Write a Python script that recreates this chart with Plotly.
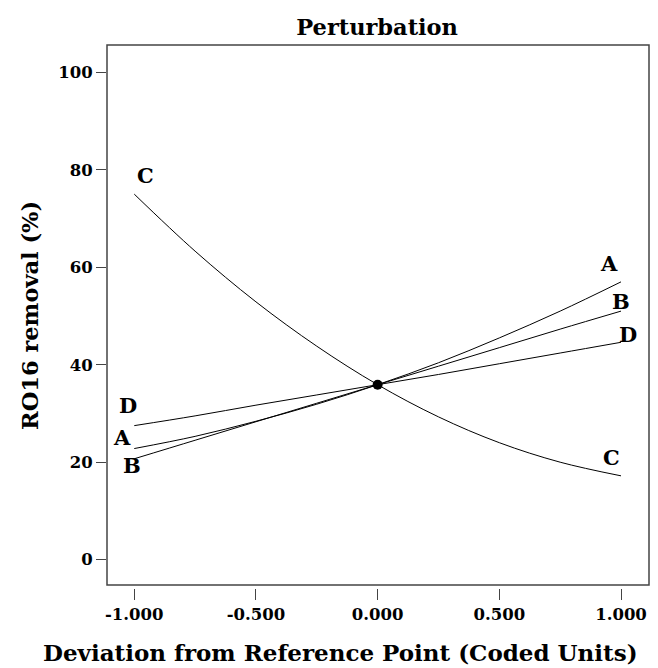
import plotly.graph_objects as go

# deviation from reference point (coded units)
dev = [-1.0, -0.75, -0.5, -0.25, 0.0, 0.25, 0.5, 0.75, 1.0]

# RO16 removal (%)
curve_a = [22.8, 25.3, 28.4, 31.9, 35.9, 40.4, 45.5, 51.0, 57.0]
curve_b = [20.7, 24.5, 28.3, 32.1, 35.9, 39.7, 43.5, 47.3, 51.0]
curve_c = [75.0, 63.3, 52.9, 43.8, 35.9, 29.3, 24.0, 20.0, 17.2]
curve_d = [27.5, 29.5, 31.7, 33.8, 35.9, 38.0, 40.2, 42.4, 44.6]

ref_point = [0.0]
ref_value = [35.9]

# curve labels: (text, x, y)
labels = [
    ("C", -0.955, 78.8), ("D", -1.025, 31.6), ("A", -1.05, 25.0), ("B", -1.01, 19.4),
    ("A", 0.95, 60.8), ("B", 1.0, 52.9), ("D", 1.03, 46.3), ("C", 0.96, 21.0),
]

x_ticks = [-1.0, -0.5, 0.0, 0.5, 1.0]
x_ticktext = ["-1.000", "-0.500", "0.000", "0.500", "1.000"]
y_ticks = [0, 20, 40, 60, 80, 100]

FONT = "DejaVu Serif"

fig = go.Figure()

for ys in [curve_a, curve_b, curve_c, curve_d]:
    fig.add_trace(go.Scatter(
        x=dev, y=ys, mode="lines",
        line=dict(color="black", width=1, shape="spline"),
        showlegend=False, hoverinfo="skip",
    ))

fig.add_trace(go.Scatter(
    x=ref_point, y=ref_value, mode="markers",
    marker=dict(color="black", size=10),
    showlegend=False,
))

for txt, lx, ly in labels:
    fig.add_annotation(x=lx, y=ly, text=txt, showarrow=False,
                       font=dict(family=FONT, size=21, color="black", weight="bold"))

# axis titles placed by hand (x title is centred on the page, not the plot)
fig.add_annotation(text="Deviation from Reference Point (Coded Units)",
                   xref="paper", yref="paper", x=0.43, y=-0.118,
                   xanchor="center", yanchor="middle", showarrow=False,
                   font=dict(family=FONT, size=23, color="black", weight="bold"))
fig.add_annotation(text="RO16 removal (%)", textangle=-90,
                   xref="paper", yref="paper", x=-0.142, y=0.501,
                   xanchor="center", yanchor="middle", showarrow=False,
                   font=dict(family=FONT, size=22.5, color="black", weight="bold"))

# plot frame
fig.add_shape(type="rect", xref="x domain", yref="y domain",
              x0=0, x1=1, y0=0, y1=1,
              line=dict(color="#444444", width=1.5))

fig.update_layout(
    width=658, height=668,
    margin=dict(l=99, r=17, t=37, b=88),
    paper_bgcolor="white", plot_bgcolor="white",
    title=dict(text="Perturbation", x=0.561, xanchor="center", y=0.972, yanchor="middle",
               font=dict(family=FONT, size=22.5, color="black", weight="bold")),
    xaxis=dict(
        range=[-1.112, 1.115], tickvals=x_ticks, ticktext=x_ticktext,
        anchor="free", position=0, showline=False, showgrid=False, zeroline=False,
        ticks="outside", ticklen=11, tickcolor="#444444", tickwidth=1.2,
        tickfont=dict(family=FONT, size=16.5, color="black", weight="bold"),
    ),
    yaxis=dict(
        range=[-5.2, 105.6], domain=[0.0055, 1], tickvals=y_ticks,
        showline=False, showgrid=False, zeroline=False,
        ticks="outside", ticklen=10, tickcolor="#444444", tickwidth=1.2,
        tickfont=dict(family=FONT, size=16.5, color="black", weight="bold"),
    ),
)

fig.write_html("out.html")
